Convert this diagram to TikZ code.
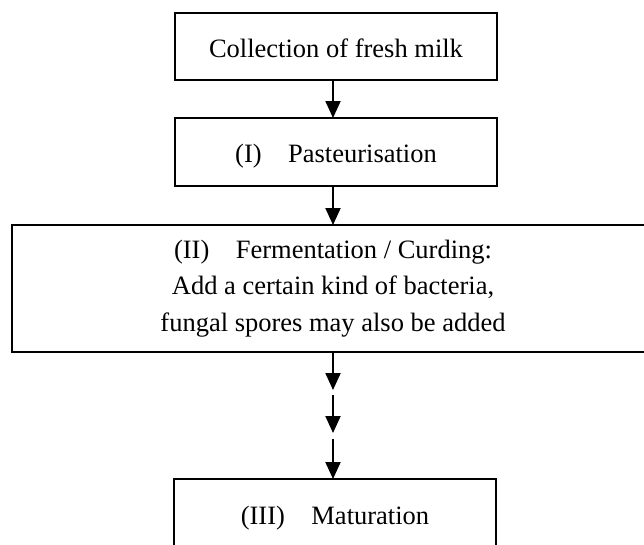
\documentclass[tikz,border=0pt]{standalone}
\usepackage{fontspec}
\setmainfont{Liberation Serif}
\usetikzlibrary{arrows.meta}
\begin{document}
\begin{tikzpicture}[x=1pt,y=-1pt,
  box/.style={draw=black, line width=2.4pt, fill=white, inner sep=0pt, outer sep=0pt,
    align=center, font=\fontsize{26.5}{36.5}\selectfont},
  conn/.style={draw=black, line width=2pt,
    -{Triangle[length=17pt,width=15pt]}}]
\useasboundingbox (0,0) rectangle (644,544);
\fill[white] (0,0) rectangle (644,544);
\clip (0,0) rectangle (644,544);
\coordinate (ax) at (333,0);
\node[box, minimum width=322pt, minimum height=67pt] (b1) at (336,46.5) {\raisebox{-1.5pt}[\height][\depth]{Collection of fresh milk}};
\node[box, minimum width=322pt, minimum height=68pt] (b2) at (336,152) {\raisebox{-4pt}[\height][\depth]{(I)\hspace{1em}Pasteurisation}};
\node[box, minimum width=642pt, minimum height=127pt] (b3) at (333,288.5)
  {(II)\hspace{1em}Fermentation / Curding:\\Add a certain kind of bacteria,\\fungal spores may also be added};
\node[box, minimum width=322pt, minimum height=78pt] (b4) at (335,518) {(III)\hspace{1em}Maturation};
\coordinate (m1) at (333,390);
\coordinate (m1b) at (333,395);
\coordinate (m2) at (333,433);
\coordinate (m2b) at (333,439);
\draw[conn] (b1.south -| ax) -- (b2.north -| ax);
\draw[conn] (b2.south -| ax) -- (b3.north -| ax);
\draw[conn] (b3.south -| ax) -- (m1);
\draw[conn] (m1b) -- (m2);
\draw[conn] (m2b) -- (b4.north -| ax);
\end{tikzpicture}
\end{document}
